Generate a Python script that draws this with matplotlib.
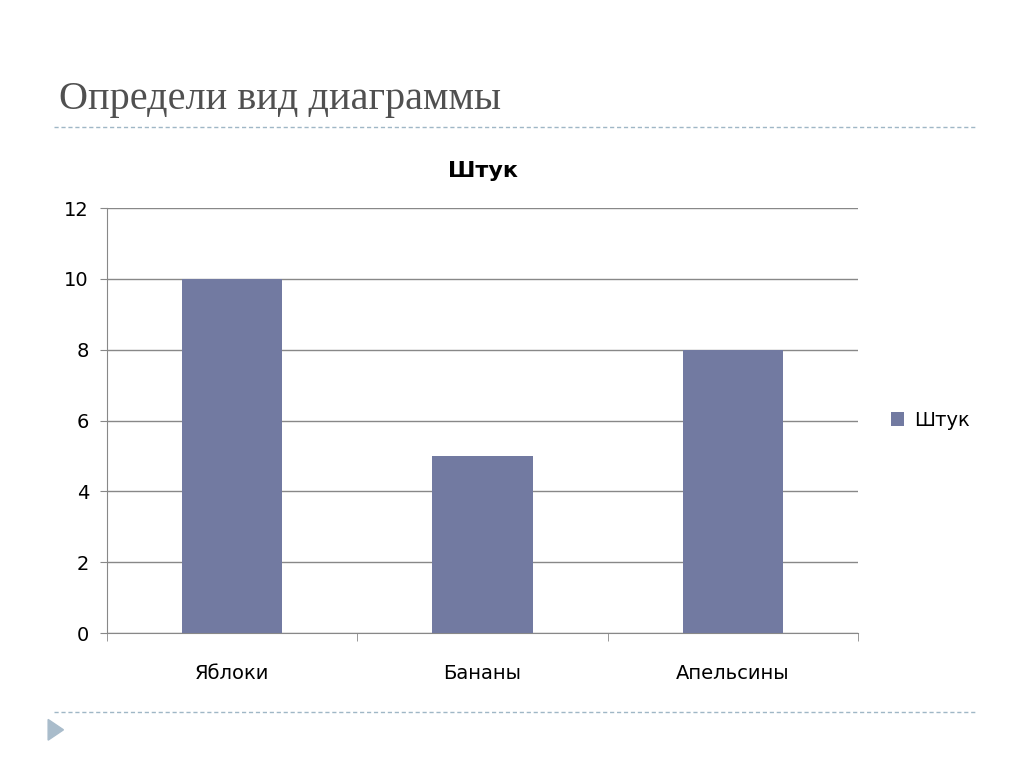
import matplotlib.pyplot as plt
from matplotlib.patches import Polygon
from matplotlib.lines import Line2D

categories = ["Яблоки", "Бананы", "Апельсины"]
values = [10, 5, 8]
series_name = "Штук"

fig = plt.figure(figsize=(10.24, 7.67), dpi=100)
fig.patch.set_facecolor("white")

# slide header and decorations
fig.text(0.058, 0.87, "Определи вид диаграммы", fontsize=29, family="Liberation Serif",
         color="#505050", va="center")
for y in (0.835, 0.072):
    fig.add_artist(Line2D([0.053, 0.952], [y, y], transform=fig.transFigure,
                          color="#9fb7c6", lw=1, ls=(0, (3, 2))))
fig.add_artist(Polygon([[0.047, 0.062], [0.047, 0.035], [0.062, 0.0485]], closed=True,
                       transform=fig.transFigure, color="#a9bccb"))

ax = fig.add_axes([0.1045, 0.1747, 0.7334, 0.5541])
x = range(len(categories))
ax.bar(x, values, width=0.4, color="#727aa1", label=series_name, zorder=3)
ax.set_xlim(-0.5, 2.5)
ax.set_ylim(0, 12)
ax.set_yticks(range(0, 13, 2))
ax.set_xticks(x)
ax.set_xticklabels(categories, fontsize=14)
ax.set_xticks([-0.5, 0.5, 1.5, 2.5], minor=True)
ax.tick_params(axis="x", which="major", length=0, pad=22)
ax.tick_params(axis="x", which="minor", length=6, color="#888888")
ax.tick_params(axis="y", length=5, color="#888888", labelsize=14, pad=8)
ax.grid(axis="y", color="#888888", lw=1, zorder=0)
for s in ("top", "right"):
    ax.spines[s].set_visible(False)
for s in ("left", "bottom"):
    ax.spines[s].set_color("#888888")
ax.set_title(series_name, fontsize=16, fontweight="bold", pad=22)
ax.legend(loc="center left", bbox_to_anchor=(1.02, 0.5), frameon=False, fontsize=14,
          handlelength=0.7, handleheight=0.7, handletextpad=0.5)

fig.savefig("out.png", dpi=100)
